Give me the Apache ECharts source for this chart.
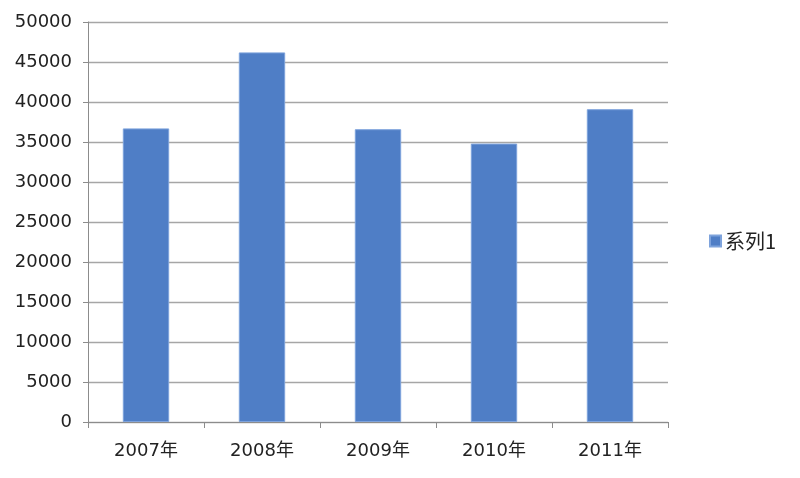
<!DOCTYPE html>
<html>
<head>
<meta charset="utf-8">
<script src="https://cdn.jsdelivr.net/npm/echarts@6/dist/echarts.min.js"></script>
<style>
html,body{margin:0;padding:0;background:#fff;}
#c{width:800px;height:478px;}
</style>
</head>
<body>
<div id="c"></div>
<script>
const categories = ['2007年','2008年','2009年','2010年','2011年'];
const seriesName = '系列1';
const values = [36700, 46200, 36600, 34800, 39100];

const chart = echarts.init(document.getElementById('c'));
chart.setOption({
  animation: false,
  backgroundColor: '#fff',
  grid: {left: 88, right: 132, top: 22, bottom: 56, containLabel: false},
  legend: {
    data: [seriesName],
    orient: 'vertical',
    left: 704, top: 226,
    itemWidth: 11, itemHeight: 11, itemGap: 4,
    icon: 'rect',
    textStyle: {fontFamily: 'Noto Sans CJK SC', fontSize: 20, color: '#222', padding: [0,0,0,-1]}
  },
  xAxis: {
    type: 'category',
    data: categories,
    axisLine: {lineStyle: {color: '#8c8c8c', width: 1}},
    axisTick: {show: true, length: 6, lineStyle: {color: '#8c8c8c'}},
    axisLabel: {fontFamily: 'DejaVu Sans, Noto Sans CJK SC', fontSize: 18, color: '#222', margin: 20}
  },
  yAxis: {
    type: 'value',
    min: 0, max: 50000, interval: 5000,
    axisLine: {show: true, lineStyle: {color: '#8c8c8c', width: 1}},
    axisTick: {show: true, length: 5, lineStyle: {color: '#8c8c8c'}},
    splitLine: {lineStyle: {color: '#a6a6a6', width: 1.3}},
    axisLabel: {fontFamily: 'DejaVu Sans', fontSize: 18, color: '#222', margin: 16, formatter: v => String(v)}
  },
  series: [{
    name: seriesName,
    type: 'bar',
    data: values,
    barCategoryGap: '60%',
    itemStyle: {color: '#4f7ec6', borderColor: '#7ea3dc', borderWidth: 1}
  }]
});
</script>
</body>
</html>
